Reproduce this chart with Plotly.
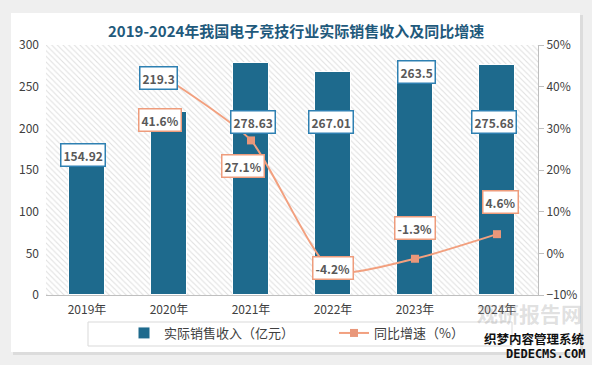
import plotly.graph_objects as go

# ---------------- data ----------------
years = ["2019年", "2020年", "2021年", "2022年", "2023年", "2024年"]
revenue = [154.92, 219.3, 278.63, 267.01, 263.5, 275.68]      # 亿元
growth = [None, 41.6, 27.1, -4.2, -1.3, 4.6]                  # %
revenue_labels = ["154.92", "219.3", "278.63", "267.01", "263.5", "275.68"]
growth_labels = ["", "41.6%", "27.1%", "-4.2%", "-1.3%", "4.6%"]

# ---------------- styling ----------------
W, H = 592, 365
ML, MR, MT, MB = 46, 54, 45, 70
PW, PH = W - ML - MR, H - MT - MB
Y1_MAX = 300
BAR_COLOR = "#1E6A8D"
LINE_COLOR = "#F2A07F"
MARK_COLOR = "#E9977A"
BAR_LBL_BORDER = "#2E80B2"
LINE_LBL_BORDER = "#EE9C7C"
TXT = "#404040"
FONT = "Noto Sans CJK SC"

# label offsets (pixels) relative to data point
bar_lbl_dx = [-4, -11, 2, -2, 1, -3]
bar_lbl_dy = [11, 34, -59, -50, 3, -57]
line_lbl_dx = [0, -9, -8, 0, 0, 3]
line_lbl_dy = [0, -40, -26, 3, 31, 32]


def px_to_paper_x(px):
    return (px - ML) / PW


def px_to_paper_y(py):
    return (H - MB - py) / PH


fig = go.Figure()

# hatched plot-area background
fig.add_trace(go.Bar(
    x=years, y=[Y1_MAX] * len(years), width=1.0,
    marker=dict(color="white", line=dict(width=0),
                pattern=dict(shape="\\", fgcolor="#c2c2c2", bgcolor="white",
                             size=4, solidity=0.28)),
    showlegend=False, hoverinfo="skip",
))

fig.add_trace(go.Bar(
    x=years, y=revenue, name="实际销售收入（亿元）", width=0.44,
    marker=dict(color=BAR_COLOR, line=dict(color="white", width=1)),
))

fig.add_trace(go.Scatter(
    x=years, y=growth, name="同比增速（%）", yaxis="y2",
    mode="lines+markers", connectgaps=False,
    line=dict(color=LINE_COLOR, width=2, shape="spline", smoothing=0.6),
    marker=dict(symbol="square", size=8, color=MARK_COLOR),
))

annotations = []
for i, yr in enumerate(years):
    annotations.append(dict(
        x=yr, y=revenue[i], xref="x", yref="y", text=f"<b>{revenue_labels[i]}</b>",
        showarrow=False, xshift=bar_lbl_dx[i], yshift=bar_lbl_dy[i],
        font=dict(size=12, color="#595959", family=FONT),
        bgcolor="white", bordercolor=BAR_LBL_BORDER, borderwidth=1.5, borderpad=2,
    ))
    if growth[i] is not None:
        annotations.append(dict(
            x=yr, y=growth[i], xref="x", yref="y2", text=f"<b>{growth_labels[i]}</b>",
            showarrow=False, xshift=line_lbl_dx[i], yshift=line_lbl_dy[i],
            font=dict(size=12, color="#595959", family=FONT),
            bgcolor="white", bordercolor=LINE_LBL_BORDER, borderwidth=1.5, borderpad=2,
        ))

# title
annotations.append(dict(
    x=px_to_paper_x(296), y=px_to_paper_y(31), xref="paper", yref="paper",
    text="<b>2019-2024年我国电子竞技行业实际销售收入及同比增速</b>", showarrow=False,
    font=dict(size=15, color="#1F5A7C", family=FONT), xanchor="center", yanchor="middle",
))

# watermark
annotations.append(dict(
    x=px_to_paper_x(584), y=px_to_paper_y(313), xref="paper", yref="paper",
    text="<b>观研报告网</b>", showarrow=False, xanchor="right", yanchor="middle",
    font=dict(size=21, color="rgba(150,150,150,0.3)", family=FONT),
))
annotations.append(dict(
    x=px_to_paper_x(587), y=px_to_paper_y(338), xref="paper", yref="paper",
    text="<b>织梦内容管理系统</b>", showarrow=False, xanchor="right", yanchor="middle",
    font=dict(size=12.5, color="#111111", family=FONT),
))
annotations.append(dict(
    x=px_to_paper_x(587), y=px_to_paper_y(354), xref="paper", yref="paper",
    text="<b>DEDECMS.COM</b>", showarrow=False, xanchor="right", yanchor="middle",
    font=dict(size=12, color="#111111", family="DejaVu Sans Mono"),
))

shapes = [
    # card shadow
    dict(type="rect", xref="paper", yref="paper", layer="below",
         x0=px_to_paper_x(13), x1=px_to_paper_x(583), y0=px_to_paper_y(355), y1=px_to_paper_y(15),
         fillcolor="#dcdcdc", line=dict(width=0)),
    # white card
    dict(type="rect", xref="paper", yref="paper", layer="below",
         x0=px_to_paper_x(11), x1=px_to_paper_x(580), y0=px_to_paper_y(352), y1=px_to_paper_y(13),
         fillcolor="white", line=dict(width=0)),
    # legend frame
    dict(type="rect", xref="paper", yref="paper", layer="below",
         x0=px_to_paper_x(88), x1=px_to_paper_x(512), y0=px_to_paper_y(346), y1=px_to_paper_y(322),
         fillcolor="white", line=dict(width=1, color="#d9d9d9")),
]

fig.update_layout(
    width=W, height=H,
    margin=dict(l=ML, r=MR, t=MT, b=MB, autoexpand=False),
    paper_bgcolor="#efefef", plot_bgcolor="rgba(0,0,0,0)",
    font=dict(family=FONT, size=12, color=TXT),
    barmode="overlay", bargap=0,
    showlegend=True,
    legend=dict(orientation="h", x=px_to_paper_x(124), xanchor="left",
                y=px_to_paper_y(318), yanchor="top",
                borderwidth=0, bgcolor="rgba(0,0,0,0)",
                font=dict(size=13, color=TXT, family=FONT),
                entrywidth=165, itemwidth=30, traceorder="normal"),
    xaxis=dict(range=[-0.5, 5.5], showline=True, linecolor="#bfbfbf", linewidth=1,
               ticks="", showgrid=False, tickfont=dict(size=12, color=TXT), fixedrange=True,
               ticklabelstandoff=4),
    yaxis=dict(range=[0, Y1_MAX], dtick=50, showgrid=False, showline=False, ticks="",
               zeroline=False, tickfont=dict(size=12, color=TXT), ticklabelstandoff=6),
    yaxis2=dict(range=[-10, 50], dtick=10, ticksuffix="%", overlaying="y", side="right",
                showgrid=False, zeroline=False, showline=True, linecolor="#bfbfbf",
                ticks="outside", ticklen=5, tickcolor="#bfbfbf",
                tickfont=dict(size=12, color=TXT)),
    annotations=annotations,
    shapes=shapes,
)

fig.write_html("out.html", post_script="document.body.style.margin='0';",
               config={"displayModeBar": False})
